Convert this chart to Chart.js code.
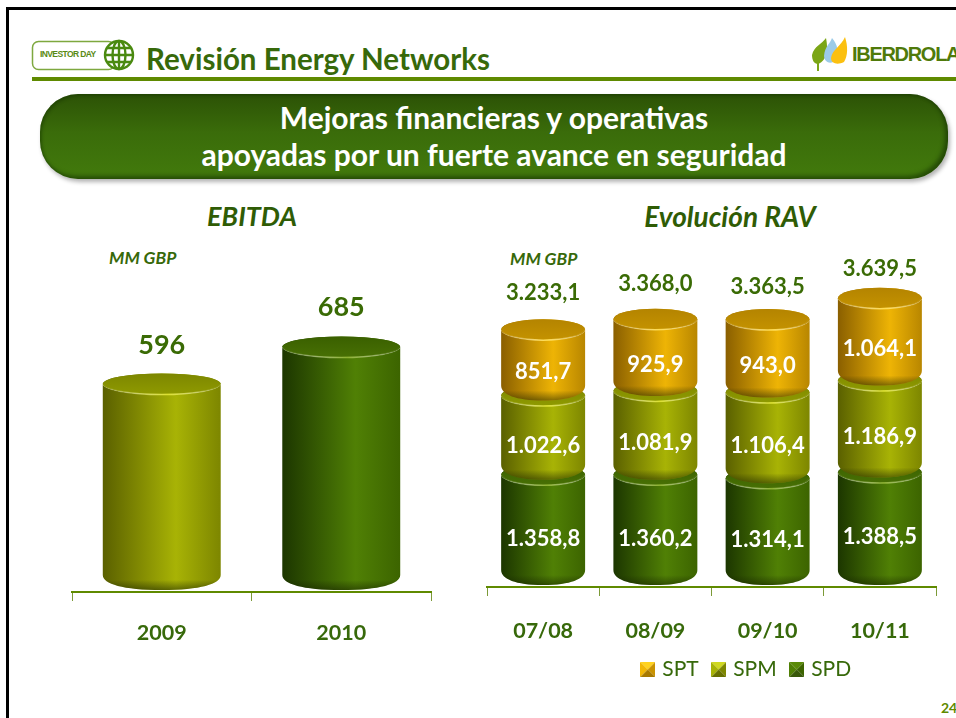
<!DOCTYPE html>
<html lang="es">
<head>
<meta charset="UTF-8">
<title>Revisión Energy Networks</title>
<script src="https://cdn.jsdelivr.net/npm/chart.js@4.4.0/dist/chart.umd.min.js"></script>
<style>
  * { margin: 0; padding: 0; box-sizing: border-box; }
  html, body { width: 956px; height: 718px; overflow: hidden; background: #fff; }
  body { position: relative; font-family: Lato, sans-serif; color: #3a6b05; }
  .abs { position: absolute; white-space: nowrap; line-height: 1; }
  .frame { position: absolute; left: 6px; top: 7px; width: 960px; height: 720px; border-top: 3px solid #000; border-left: 3px solid #000; }
  .rule { position: absolute; left: 32px; top: 77px; width: 924px; height: 4px; background: #5f8a00; }
  .heading { left: 146px; top: 44px; font-size: 29.5px; font-weight: 700; color: #37690a; }
  .banner {
    position: absolute; left: 40px; top: 94px; width: 908px; height: 85px; border-radius: 38px;
    background: linear-gradient(#2c5206, #3a6c0a 45%, #427a0c);
    box-shadow: inset -3px -3px 4px rgba(15,40,0,.55), inset 2px 2px 3px rgba(20,50,0,.4), 2px 3px 4px rgba(0,0,0,.3);
    color: #fff; font-size: 30px; font-weight: 700; text-align: center; line-height: 37px; padding-top: 5px;
  }
  .sub { font-weight: 700; font-style: italic; color: #2f5c05; transform: translateX(-50%); }
  .unit { font-size: 17.5px; font-weight: 700; font-style: italic; color: #37690a; }
  .page { left: 941px; top: 701px; font-size: 14px; font-weight: 700; color: #5f8a00; }
  .brand { left: 852px; top: 44px; font-family: "Liberation Sans", sans-serif; font-size: 20px; font-weight: 700; letter-spacing: -1.3px; color: #4f7a0a; }
  .tag { left: 40px; top: 50px; font-family: "Liberation Sans", sans-serif; font-size: 8.5px; font-weight: 700; letter-spacing: -.6px; color: #5a8a14; }
  canvas { position: absolute; }
  svg { position: absolute; }
</style>
</head>
<body>
<div class="frame"></div>

<svg style="left:30px;top:38px" width="106" height="36" viewBox="0 0 106 36">
  <rect x="2.5" y="3.5" width="82" height="28" rx="6" fill="#fff" stroke="#7ea83f" stroke-width="1.5"/>
  <g fill="none" stroke="#4a8a10" stroke-width="2.4">
    <circle cx="89" cy="17" r="14" fill="#fff"/>
    <ellipse cx="89" cy="17" rx="6.5" ry="14"/>
    <path d="M89 3V31M75 17H103M77 10H101M77 24H101"/>
  </g>
</svg>
<div class="abs tag">INVESTOR DAY</div>
<div class="abs heading">Revisión Energy Networks</div>

<svg style="left:810px;top:36px" width="42" height="36" viewBox="0 0 42 36">
  <path d="M2 19C4 10 12 8 16 2C18 12 18 24 8 28C4 28 2 24 2 19Z" fill="#7ba616"/>
  <path d="M14 20C15 10 20 8 22 2C27 8 30 16 26 24C22 28 15 28 14 20Z" fill="#9ccbe8"/>
  <path d="M21 22C22 14 31 10 35 1C38 10 38 20 34 26C28 29 21 28 21 22Z" fill="#fbc010"/>
  <path d="M8 22V35" stroke="#7ba616" stroke-width="2"/>
</svg>
<div class="abs brand">IBERDROLA</div>
<div class="rule"></div>

<div class="banner">Mejoras financieras y operativas<br>apoyadas por un fuerte avance en seguridad</div>

<div class="abs sub" style="left:252px;top:202px;font-size:27px">EBITDA</div>
<div class="abs sub" style="left:730px;top:202px;font-size:28px">Evolución RAV</div>
<div class="abs unit" style="left:109px;top:249px">MM GBP</div>
<div class="abs unit" style="left:510px;top:250px">MM GBP</div>

<canvas id="ebitdaChart" width="440" height="452" style="left:30px;top:200px"></canvas>
<canvas id="ravChart" width="610" height="490" style="left:440px;top:200px"></canvas>

<div class="abs page">24</div>

<script>
const ebitdaYears = ['2009', '2010'];
const ebitdaValues = [596, 685];

const ravYears = ['07/08', '08/09', '09/10', '10/11'];
const spdValues = [1358.8, 1360.2, 1314.1, 1388.5];
const spmValues = [1022.6, 1081.9, 1106.4, 1186.9];
const sptValues = [851.7, 925.9, 943.0, 1064.1];
const ravTotals = [3233.1, 3368.0, 3363.5, 3639.5];

const GREEN = { left: '#1c3600', mid: '#508005', right: '#3c6400', top: '#3a6000', topLow: '#487004', rim: '#8cb030' };
const LIME = { left: '#5a6000', mid: '#a8b305', right: '#7d8600', top: '#7d8700', topLow: '#8f9a00', rim: '#dce030' };
const GOLD = { left: '#8a5f00', mid: '#eeb405', right: '#b88600', top: '#b48400', topLow: '#c49200', rim: '#ffdc50' };

const fmt = new Intl.NumberFormat('de-DE', { minimumFractionDigits: 1, maximumFractionDigits: 1 });

function drawCylinder(ctx, bar, colors) {
  const rx = bar.width / 2, ry = 10.5;
  const left = bar.x - rx, right = bar.x + rx;
  const top = bar.y, bottom = bar.base + 5, sideEnd = bar.base - 10;

  ctx.save();
  ctx.beginPath();
  ctx.moveTo(left, top);
  ctx.lineTo(left, sideEnd);
  ctx.bezierCurveTo(left, sideEnd + 9, left + rx * 0.35, bottom, bar.x, bottom);
  ctx.bezierCurveTo(right - rx * 0.35, bottom, right, sideEnd + 9, right, sideEnd);
  ctx.lineTo(right, top);
  ctx.ellipse(bar.x, top, rx, ry, 0, 0, Math.PI * 2);
  ctx.closePath();
  const side = ctx.createLinearGradient(left, 0, right, 0);
  side.addColorStop(0, colors.left);
  side.addColorStop(0.62, colors.mid);
  side.addColorStop(1, colors.right);
  ctx.fillStyle = side;
  ctx.fill();
  ctx.clip();

  // sombra del borde inferior
  const shade = ctx.createLinearGradient(0, sideEnd + 5, 0, bottom);
  shade.addColorStop(0, 'rgba(20,30,0,0)');
  shade.addColorStop(1, 'rgba(20,30,0,0.5)');
  ctx.fillStyle = shade;
  ctx.fillRect(left, sideEnd + 5, bar.width, bottom - sideEnd);
  ctx.restore();

  // tapa
  const cap = ctx.createLinearGradient(0, top - ry, 0, top + ry);
  cap.addColorStop(0, colors.top);
  cap.addColorStop(1, colors.topLow);
  ctx.fillStyle = cap;
  ctx.beginPath();
  ctx.ellipse(bar.x, top, rx, ry, 0, 0, Math.PI * 2);
  ctx.fill();

  // brillo bajo la tapa
  const rim = ctx.createLinearGradient(left, 0, right, 0);
  rim.addColorStop(0, 'rgba(255,255,255,0)');
  rim.addColorStop(0.55, colors.rim);
  rim.addColorStop(1, 'rgba(255,255,255,0)');
  ctx.strokeStyle = rim;
  ctx.lineWidth = 1.5;
  ctx.beginPath();
  ctx.ellipse(bar.x, top, rx - 1, ry, 0, 0, Math.PI);
  ctx.stroke();
}

const cylinders = {
  id: 'cylinders',
  afterLayout(chart, args, opts) {
    // la leyenda no va centrada sobre el eje
    if (opts.legendShift && chart.legend) {
      chart.legend.left += opts.legendShift;
      chart.legend.right += opts.legendShift;
    }
  },
  beforeDatasetDraw() { return false; },
  afterDatasetsDraw(chart, args, opts) {
    const ctx = chart.ctx;
    chart.data.datasets.forEach((ds, d) => {
      chart.getDatasetMeta(d).data.forEach((bar, i) => {
        drawCylinder(ctx, bar, opts.palette[d][i % opts.palette[d].length]);
      });
    });
    ctx.textAlign = 'center';
    ctx.textBaseline = 'middle';
    chart.data.datasets.forEach((ds, d) => {
      if (!opts.inner) return;
      chart.getDatasetMeta(d).data.forEach((bar, i) => {
        ctx.font = '700 22px Lato';
        ctx.fillStyle = '#fff';
        ctx.fillText(fmt.format(ds.data[i]), bar.x, (bar.y + bar.base) / 2 + opts.innerShift[d]);
      });
    });
    const metas = chart.getDatasetMeta(chart.data.datasets.length - 1).data;
    metas.forEach((bar, i) => {
      ctx.font = opts.totalFont;
      ctx.fillStyle = '#3a6b05';
      ctx.fillText(opts.totals[i], bar.x, bar.y - opts.lift[i]);
    });
  }
};

function bevelIcon(hi, mid, low, dark) {
  const c = document.createElement('canvas');
  c.width = 15; c.height = 15;
  const g = c.getContext('2d');
  const tri = (col, pts) => {
    g.fillStyle = col;
    g.beginPath();
    g.moveTo(pts[0], pts[1]); g.lineTo(pts[2], pts[3]); g.lineTo(7.5, 7.5);
    g.closePath();
    g.fill();
  };
  tri(mid, [0, 0, 15, 0]);
  tri(hi, [0, 0, 0, 15]);
  tri(low, [15, 0, 15, 15]);
  tri(dark, [0, 15, 15, 15]);
  return c;
}

function xAxis(height, labelGap) {
  return {
    offset: true,
    afterFit(scale) { scale.height = height; },
    border: { color: '#5f8a00', width: 2 },
    grid: { drawOnChartArea: false, color: '#7c9a38', tickLength: 9, lineWidth: 1 },
    ticks: { color: '#37690a', font: { family: 'Lato', size: 21.5, weight: '700' }, padding: labelGap, maxRotation: 0 }
  };
}

new Chart(document.getElementById('ebitdaChart'), {
  type: 'bar',
  data: {
    labels: ebitdaYears,
    datasets: [{ label: 'EBITDA', data: ebitdaValues, base: 113, backgroundColor: [LIME.mid, GREEN.mid], categoryPercentage: 1, barPercentage: 0.657 }]
  },
  plugins: [cylinders],
  options: {
    responsive: false,
    animation: false,
    devicePixelRatio: 1,
    layout: { padding: { left: 42, right: 39, top: 16, bottom: 0 } },
    scales: {
      x: xAxis(60, 19),
      y: { display: false, min: 96, max: 1000 }
    },
    plugins: {
      legend: { display: false },
      tooltip: { enabled: false },
      cylinders: {
        palette: [[LIME, GREEN]],
        totals: ebitdaValues.map(String),
        totalFont: '700 27px Lato',
        lift: [39, 40]
      }
    }
  }
});

const icons = [
  bevelIcon('#f2b705', '#ffd21f', '#c99200', '#a77900'),
  bevelIcon('#a8b305', '#d0d820', '#7d8600', '#687000'),
  bevelIcon('#508005', '#5a8a08', '#3c6400', '#38580a')
];

new Chart(document.getElementById('ravChart'), {
  type: 'bar',
  data: {
    labels: ravYears,
    datasets: [
      { label: 'SPD', data: spdValues, backgroundColor: GREEN.mid, stack: 'rav', categoryPercentage: 1, barPercentage: 0.748 },
      { label: 'SPM', data: spmValues, backgroundColor: LIME.mid, stack: 'rav', categoryPercentage: 1, barPercentage: 0.748 },
      { label: 'SPT', data: sptValues, backgroundColor: GOLD.mid, stack: 'rav', categoryPercentage: 1, barPercentage: 0.748 }
    ]
  },
  plugins: [cylinders],
  options: {
    responsive: false,
    animation: false,
    devicePixelRatio: 1,
    layout: { padding: { left: 47, right: 114, top: 16, bottom: 0 } },
    scales: {
      x: Object.assign(xAxis(56, 22), { stacked: true }),
      y: { display: false, stacked: true, min: -89, max: 4700 }
    },
    plugins: {
      tooltip: { enabled: false },
      legend: {
        position: 'bottom',
        labels: {
          color: '#37690a',
          font: { family: 'Lato', size: 21 },
          usePointStyle: true,
          boxWidth: 8,
          padding: 16,
          generateLabels(chart) {
            return ['SPT', 'SPM', 'SPD'].map((text, i) => ({
              text, pointStyle: icons[i], fontColor: '#37690a', lineWidth: 0, hidden: false
            }));
          }
        }
      },
      cylinders: {
        palette: [[GREEN], [LIME], [GOLD]],
        inner: true,
        innerShift: [11, 10.5, 9.5],
        totals: ravTotals.map(v => fmt.format(v)),
        totalFont: '700 22px Lato',
        lift: [37, 35, 33, 29],
        legendShift: 36
      }
    }
  }
});
</script>
</body>
</html>
